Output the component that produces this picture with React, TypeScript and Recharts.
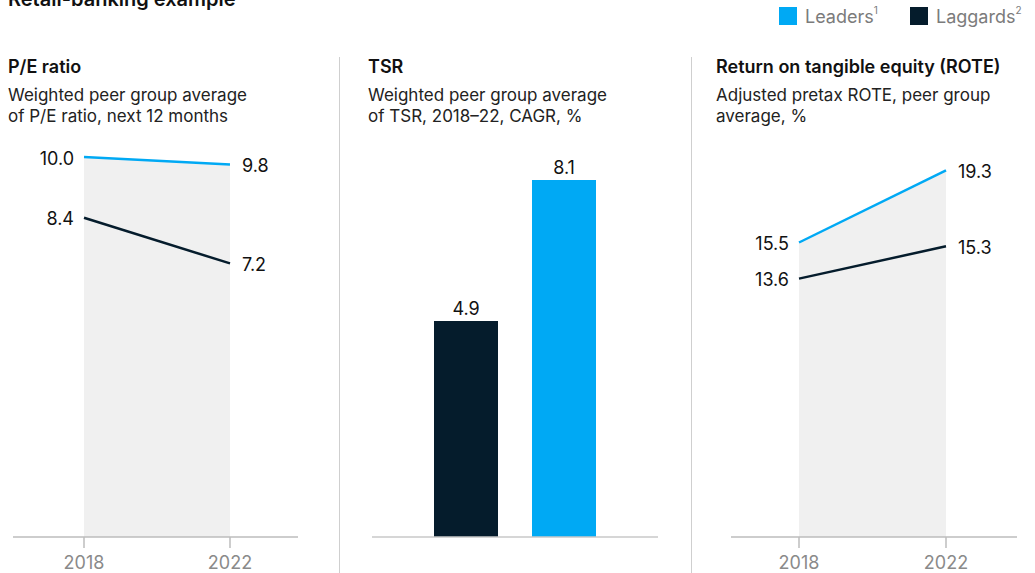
import React from 'react'
import {
  ComposedChart,
  BarChart,
  Bar,
  Line,
  Area,
  XAxis,
  YAxis,
  LabelList,
} from 'recharts'

const years = ['2018', '2022']
const peLeaders = [10.0, 9.8]
const peLaggards = [8.4, 7.2]
const roteLeaders = [15.5, 19.3]
const roteLaggards = [13.6, 15.3]
const tsrLeaders = 8.1
const tsrLaggards = 4.9

const BLUE = '#00a9f4'
const NAVY = '#051c2c'
const FONT = 'Inter, "Liberation Sans", Arial, sans-serif'

const peData = years.map((year, i) => ({
  year,
  leaders: peLeaders[i],
  laggards: peLaggards[i],
}))
const roteData = years.map((year, i) => ({
  year,
  leaders: roteLeaders[i],
  laggards: roteLaggards[i],
}))
const tsrData = [{ name: 'TSR', laggards: tsrLaggards, leaders: tsrLeaders }]

// value labels sit left of the first point and right of the last one
function SideLabel(props: any) {
  const { x, y, value, index } = props
  const first = index === 0
  return (
    <text
      x={first ? x - 10 : x + 12}
      y={y}
      dy={1}
      textAnchor={first ? 'end' : 'start'}
      dominantBaseline="central"
      fill="#111"
      fontSize={18}
      fontFamily={FONT}
    >
      {Number(value).toFixed(1)}
    </text>
  )
}

function Heading({
  left,
  title,
  lines,
}: {
  left: number
  title: string
  lines: string[]
}) {
  return (
    <div style={{ position: 'absolute', left, top: 56 }}>
      <div
        style={{ fontSize: 18, fontWeight: 600, lineHeight: '22px', color: '#111' }}
      >
        {title}
      </div>
      <div
        style={{
          marginTop: 7,
          fontSize: 17,
          lineHeight: '21px',
          color: '#222',
          whiteSpace: 'nowrap',
        }}
      >
        {lines.map((l) => (
          <div key={l}>{l}</div>
        ))}
      </div>
    </div>
  )
}

function LinePanel({
  data,
  left,
  width,
  margin,
  padding,
  max,
}: {
  data: any[]
  left: number
  width: number
  margin: { left: number; right: number }
  padding: { left: number; right: number }
  max: number
}) {
  return (
    <div style={{ position: 'absolute', left, top: 0 }}>
      <ComposedChart
        width={width}
        height={573}
        data={data}
        margin={{ top: 157, bottom: 0, left: margin.left, right: margin.right }}
      >
        <XAxis
          dataKey="year"
          interval={0}
          padding={padding}
          height={36}
          axisLine={{ stroke: '#bdbdbd', strokeWidth: 1.5 }}
          tickLine={{ stroke: '#bdbdbd', strokeWidth: 1.5 }}
          tickSize={11}
          tickMargin={8}
          tick={{ fill: '#8a8a8a', fontSize: 18, fontFamily: FONT }}
        />
        <YAxis hide domain={[0, max]} />
        <Area
          type="linear"
          dataKey="leaders"
          stroke="none"
          fill="#f0f0f0"
          fillOpacity={1}
          isAnimationActive={false}
        />
        <Line
          type="linear"
          dataKey="leaders"
          stroke={BLUE}
          strokeWidth={2.5}
          dot={false}
          isAnimationActive={false}
        >
          <LabelList dataKey="leaders" content={SideLabel} />
        </Line>
        <Line
          type="linear"
          dataKey="laggards"
          stroke={NAVY}
          strokeWidth={2.5}
          dot={false}
          isAnimationActive={false}
        >
          <LabelList dataKey="laggards" content={SideLabel} />
        </Line>
      </ComposedChart>
    </div>
  )
}

function LegendItem({ left, color, label, sup }: any) {
  return (
    <div
      style={{
        position: 'absolute',
        left,
        top: 7,
        display: 'flex',
        alignItems: 'center',
        height: 18,
      }}
    >
      <div style={{ width: 18, height: 18, background: color, marginRight: 8 }} />
      <span style={{ fontSize: 18, color: '#7b7b7b' }}>
        {label}
        <sup style={{ fontSize: 10, verticalAlign: 'top', position: 'relative', top: -2 }}>
          {sup}
        </sup>
      </span>
    </div>
  )
}

export default function App() {
  return (
    <div
      style={{
        position: 'absolute',
        left: 0,
        top: 0,
        width: 1035,
        height: 573,
        overflow: 'hidden',
        background: '#fff',
        fontFamily: FONT,
      }}
    >
      <div
        style={{
          position: 'absolute',
          left: 8,
          top: -12,
          fontSize: 20,
          fontWeight: 600,
          lineHeight: '22px',
          color: '#111',
        }}
      >
        Retail-banking example
      </div>
      <LegendItem left={779} color={BLUE} label="Leaders" sup="1" />
      <LegendItem left={910} color={NAVY} label="Laggards" sup="2" />

      <div style={{ position: 'absolute', left: 339, top: 57, width: 1, height: 516, background: '#cfcfcf' }} />
      <div style={{ position: 'absolute', left: 691, top: 57, width: 1, height: 516, background: '#cfcfcf' }} />

      <Heading
        left={8}
        title="P/E ratio"
        lines={['Weighted peer group average', 'of P/E ratio, next 12 months']}
      />
      <Heading
        left={368}
        title="TSR"
        lines={['Weighted peer group average', 'of TSR, 2018–22, CAGR, %']}
      />
      <Heading
        left={716}
        title="Return on tangible equity (ROTE)"
        lines={['Adjusted pretax ROTE, peer group', 'average, %']}
      />

      <LinePanel
        data={peData}
        left={0}
        width={340}
        margin={{ left: 13, right: 42 }}
        padding={{ left: 71, right: 68 }}
        max={10}
      />

      <div style={{ position: 'absolute', left: 340, top: 0 }}>
        <BarChart
          width={352}
          height={573}
          data={tsrData}
          barGap={34}
          margin={{ top: 180, bottom: 0, left: 32, right: 34 }}
        >
          <XAxis
            dataKey="name"
            height={36}
            tick={false}
            tickLine={false}
            axisLine={{ stroke: '#c8c8c8', strokeWidth: 1.5 }}
          />
          <YAxis hide domain={[0, 'dataMax']} />
          <Bar dataKey="laggards" fill={NAVY} barSize={64} isAnimationActive={false}>
            <LabelList
              dataKey="laggards"
              position="top"
              offset={6}
              fill="#111"
              fontSize={18}
              fontFamily={FONT}
            />
          </Bar>
          <Bar dataKey="leaders" fill={BLUE} barSize={64} isAnimationActive={false}>
            <LabelList
              dataKey="leaders"
              position="top"
              offset={6}
              fill="#111"
              fontSize={18}
              fontFamily={FONT}
            />
          </Bar>
        </BarChart>
      </div>

      <LinePanel
        data={roteData}
        left={692}
        width={343}
        margin={{ left: 39, right: 18 }}
        padding={{ left: 68, right: 71 }}
        max={20}
      />
    </div>
  )
}
